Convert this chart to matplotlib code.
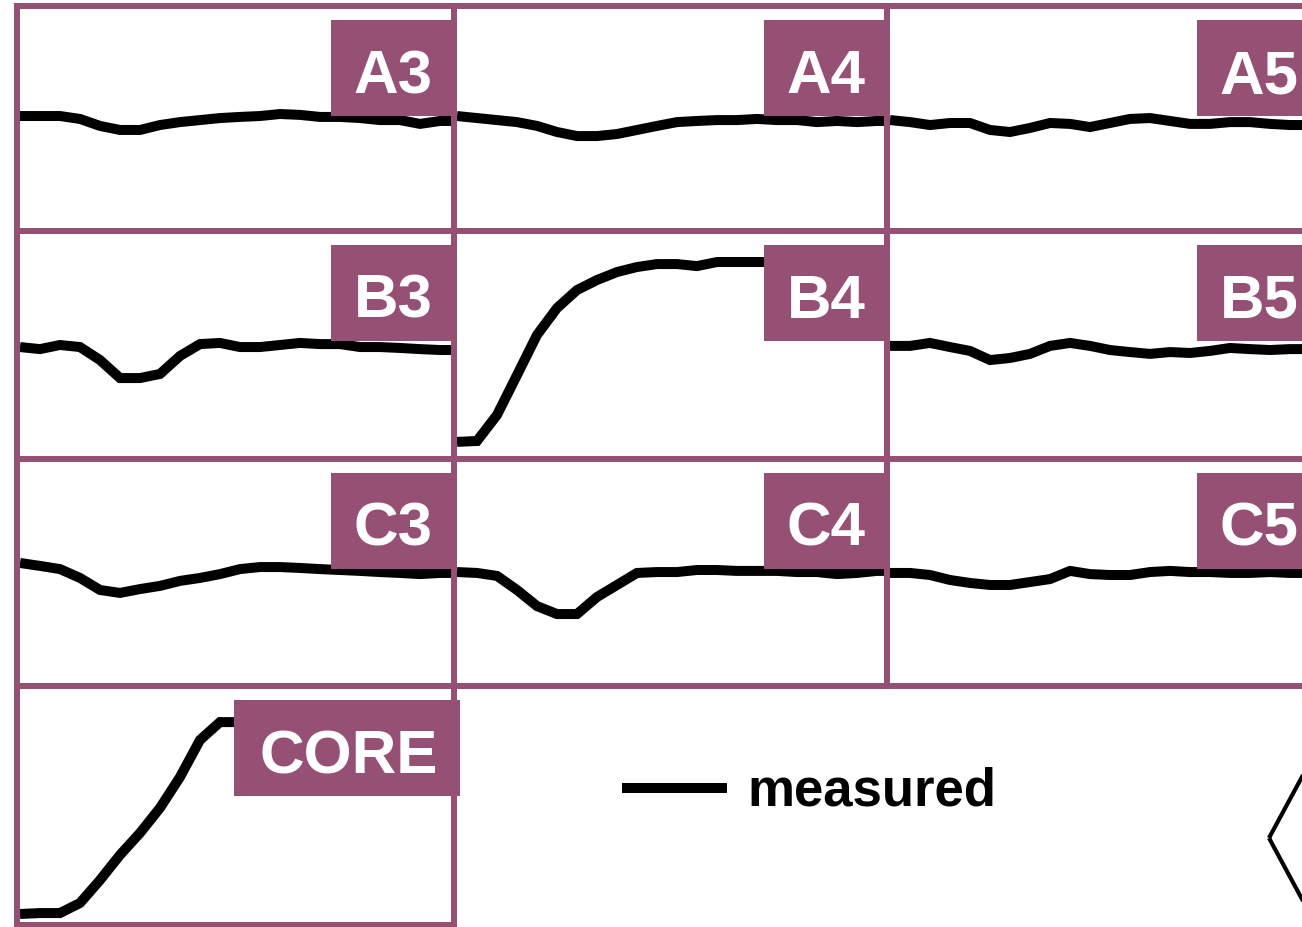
import matplotlib
matplotlib.use("Agg")
import matplotlib.pyplot as plt
from matplotlib.patches import Rectangle, Polygon

# ---------------- data (signal level, 0 = panel bottom, 100 = panel top) -------------
t = list(range(23))  # sample index along time

A3 = [51.1, 51.1, 51.1, 49.8, 46.7, 44.9, 44.9, 47.1, 48.4, 49.3, 50.2, 50.7,
      51.1, 52.0, 51.6, 50.7, 50.7, 50.2, 49.3, 49.3, 47.6, 48.9, 48.9]
A4 = [51.1, 50.2, 49.3, 48.4, 46.7, 44.0, 42.2, 42.2, 43.1, 44.9, 46.7, 48.4,
      48.9, 49.3, 49.3, 49.8, 49.3, 49.3, 48.4, 48.9, 48.4, 48.9, 48.9]
A5 = [49.3, 48.4, 47.1, 48.0, 48.0, 44.9, 44.0, 45.8, 48.0, 47.6, 46.2, 48.0,
      49.8, 50.2, 48.9, 47.6, 47.6, 48.4, 48.4, 47.6, 47.1, 47.1, 47.1]
B3 = [49.1, 48.2, 50.0, 49.1, 43.4, 35.5, 35.5, 37.3, 45.2, 50.4, 50.9, 49.1,
      49.1, 50.0, 50.9, 50.4, 50.4, 49.1, 49.1, 48.7, 48.2, 47.8, 47.8]
B4 = [7.5, 7.9, 19.3, 36.8, 54.4, 66.2, 74.1, 78.5, 82.0, 84.2, 85.5, 85.5,
      84.6, 86.4, 86.4, 86.4, 86.4, 86.4, 86.4, 86.4, 86.4, 86.4, 86.4]
B5 = [49.6, 49.6, 50.9, 49.1, 47.4, 43.4, 44.3, 46.1, 49.6, 50.9, 49.6, 47.8,
      46.9, 46.1, 46.9, 46.5, 47.4, 48.7, 48.2, 47.8, 48.2, 48.2, 48.2]
C3 = [54.2, 52.9, 51.5, 47.6, 42.3, 41.0, 42.7, 44.1, 46.3, 47.6, 49.3, 51.5,
      52.4, 52.4, 52.0, 51.5, 51.1, 50.7, 50.2, 49.8, 49.3, 49.8, 49.8]
C4 = [50.2, 49.8, 48.5, 42.3, 35.2, 31.7, 31.7, 39.2, 44.5, 49.8, 50.2, 50.2,
      51.1, 51.1, 50.7, 50.7, 50.7, 50.2, 50.2, 49.3, 49.8, 50.7, 50.7]
C5 = [49.8, 49.8, 48.9, 46.7, 45.4, 44.5, 44.5, 45.8, 47.1, 50.7, 49.3, 48.9,
      48.9, 50.2, 50.7, 50.2, 50.2, 49.8, 49.8, 50.2, 49.8, 49.8, 49.8]
CORE = [4.6, 5.0, 5.0, 9.2, 18.8, 29.3, 38.5, 49.0, 61.9, 77.4, 84.9, 84.9,
        84.9, 84.9, 84.9, 84.9, 84.9, 84.9, 84.9, 84.9, 84.9, 84.9, 84.9]

panel_names = ["A3", "A4", "A5", "B3", "B4", "B5", "C3", "C4", "C5", "CORE"]
panel_series = [A3, A4, A5, B3, B4, B5, C3, C4, C5, CORE]
legend_label = "measured"

# ---------------- layout (pixels) ----------------
W, H = 1302, 927
PURPLE = "#955073"
col_edges = [(17, 454), (454, 887), (887, 1320)]
row_edges = [(6, 231), (231, 459), (459, 686), (686, 925)]
grid_pos = [(0, 0), (0, 1), (0, 2), (1, 0), (1, 1), (1, 2), (2, 0), (2, 1), (2, 2), (3, 0)]

plt.rcParams["font.family"] = ["Liberation Sans", "DejaVu Sans"]
fig = plt.figure(figsize=(W / 100, H / 100), dpi=100)
fig.patch.set_facecolor("white")

px = 20.0  # pixels per sample
line_handle = None
for name, series, (r, c) in zip(panel_names, panel_series, grid_pos):
    l, rr = col_edges[c]
    top, bot = row_edges[r]
    ax = fig.add_axes([l / W, 1 - bot / H, (rr - l) / W, (bot - top) / H])
    ln, = ax.plot(t, series, color="black", lw=7.2, solid_joinstyle="miter",
                  solid_capstyle="butt", label=legend_label)
    line_handle = ln
    ax.set_xlim(-3.0 / px, -3.0 / px + (rr - l) / px)
    ax.set_ylim(0, 100)
    ax.set_xticks([])
    ax.set_yticks([])
    for s in ax.spines.values():
        s.set_color(PURPLE)
        s.set_linewidth(4.3)

    # label box at upper right
    if name == "CORE":
        bw, bright = 226, rr + 6
    else:
        bw, bright = 120, rr - 3
    btop = top + 14
    bh = 96
    fig.add_artist(Rectangle(((bright - bw) / W, 1 - (btop + bh) / H), bw / W, bh / H,
                             transform=fig.transFigure, facecolor=PURPLE,
                             edgecolor="none", zorder=5))
    fig.text((bright - bw / 2 + 2) / W, 1 - (btop + 73) / H, name, ha="center",
             va="baseline", color="white", fontsize=44.5, fontweight="bold",
             zorder=6)

# legend
fig.legend(handles=[line_handle], labels=[legend_label], loc="center left",
           bbox_to_anchor=(622 / W, 1 - 792 / H), frameon=False,
           borderpad=0, borderaxespad=0, handlelength=1.99, handletextpad=0.38,
           prop={"weight": "bold", "size": 38})

# partial diamond at lower right
dia = [(1269, 838), (1330, 725), (1391, 838), (1330, 951)]
fig.add_artist(Polygon([(x / W, 1 - y / H) for x, y in dia], closed=True,
                       transform=fig.transFigure, fill=False, edgecolor="black",
                       lw=3.0, zorder=4))

fig.savefig("out.png", dpi=100)
